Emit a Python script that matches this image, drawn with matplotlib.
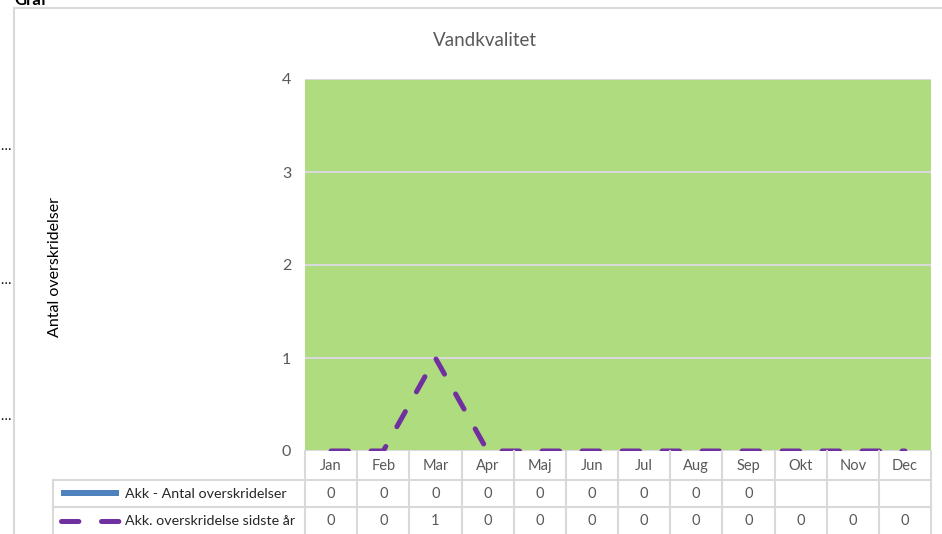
import matplotlib.pyplot as plt
import matplotlib.transforms as mtransforms
from matplotlib.lines import Line2D
from matplotlib.patches import Rectangle

plt.rcParams['font.family'] = ['Lato', 'DejaVu Sans']
plt.rcParams['lines.scale_dashes'] = False

months = ['Jan', 'Feb', 'Mar', 'Apr', 'Maj', 'Jun', 'Jul', 'Aug', 'Sep', 'Okt', 'Nov', 'Dec']
akk_antal = [0, 0, 0, 0, 0, 0, 0, 0, 0, None, None, None]
akk_sidste = [0, 0, 1, 0, 0, 0, 0, 0, 0, 0, 0, 0]
series_names = ['Akk - Antal overskridelser', 'Akk. overskridelse sidste år']
title = 'Vandkvalitet'
ylabel = 'Antal overskridelser'

W, H = 942, 534
GREEN = '#AEDC7E'
PURPLE = '#7030A0'
BLUE = '#4F81BD'
GRID = '#D9D9D9'
TXT = '#595959'


def px(x):
    return x / W


def py(y):
    return 1 - y / H


fig = plt.figure(figsize=(W / 100, H / 100), dpi=100)
ax = fig.add_axes([px(305), py(451), px(931) - px(305), py(79) - py(451)])
ax.set_facecolor(GREEN)

x = list(range(len(months)))
ax.bar(x, [v if v is not None else 0 for v in akk_antal], width=0.6, color=BLUE)
ax.plot(x, akk_sidste, color=PURPLE, lw=3.6, ls=(0, (12.5, 16.3)),
        solid_capstyle='round', dash_capstyle='round', dash_joinstyle='round')

ax.set_xlim(-0.5, len(months) - 0.5)
ax.set_ylim(0, 4)
ax.set_yticks([0, 1, 2, 3, 4])
ax.set_xticks([])
ax.yaxis.grid(True, color=GRID, lw=1.5)
ax.set_axisbelow(True)
for s in ax.spines.values():
    s.set_visible(False)
ax.tick_params(axis='y', length=0, pad=10, labelsize=11.5, labelcolor=TXT)

fig.text(px(485), py(40), title, ha='center', va='center', fontsize=13.5, color=TXT)
fig.text(px(55), py(267), ylabel, ha='center', va='center', rotation=90,
         fontsize=11.5, color='black')

# data table below the plot
blend = mtransforms.blended_transform_factory(ax.transData, fig.transFigure)
rows_y = [451, 480, 507, 534]
for i in range(len(months) + 1):
    fig.add_artist(Line2D([i - 0.5, i - 0.5], [py(451), py(534)], transform=blend,
                          color=GRID, lw=1.5))
for yy in rows_y[1:3]:
    fig.add_artist(Line2D([px(53), px(931)], [py(yy), py(yy)], color=GRID, lw=1.5))
fig.add_artist(Line2D([px(53), px(53)], [py(480), py(534)], color=GRID, lw=1.5))

for i, m in enumerate(months):
    fig.text(i, py(466), m, transform=blend, ha='center', va='center', fontsize=10.5, color=TXT)
    if akk_antal[i] is not None:
        fig.text(i, py(494), str(akk_antal[i]), transform=blend, ha='center', va='center',
                 fontsize=10.5, color=TXT)
    fig.text(i, py(521), str(akk_sidste[i]), transform=blend, ha='center', va='center',
             fontsize=10.5, color=TXT)

# legend keys
fig.add_artist(Rectangle((px(61), py(496)), px(119) - px(61), py(490) - py(496),
                         facecolor=BLUE, edgecolor='none'))
fig.add_artist(Line2D([px(61), px(119)], [py(521), py(521)], color=PURPLE, lw=3.6,
                      ls=(0, (12.5, 16.3)), dash_capstyle='round'))
fig.text(px(125), py(494), series_names[0], ha='left', va='center', fontsize=10.3, color='#262626')
fig.text(px(125), py(521), series_names[1], ha='left', va='center', fontsize=10.3, color='#262626')

# chart border and sheet bits around it
fig.add_artist(Line2D([px(14), px(14)], [py(8), py(534)], color=GRID, lw=1.5))
fig.add_artist(Line2D([px(14), px(942)], [py(8), py(8)], color=GRID, lw=1.5))
fig.text(px(14), py(5), 'Graf', ha='left', va='baseline', fontsize=12, fontweight='bold')
for yy in [146, 280, 416]:
    fig.text(px(0), py(yy), '…', ha='left', va='center', fontsize=10)

fig.savefig('out.png', dpi=100, facecolor='white')
